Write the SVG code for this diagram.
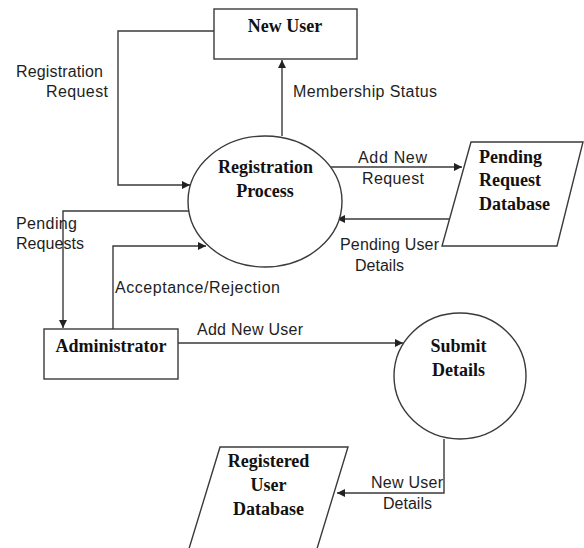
<svg xmlns="http://www.w3.org/2000/svg" width="584" height="548" viewBox="0 0 584 548">
  <defs>
    <marker id="arrow" viewBox="0 0 10 10" refX="10" refY="5" markerWidth="8" markerHeight="8" markerUnits="userSpaceOnUse" orient="auto">
      <path d="M0,0 L10,5 L0,10 z" fill="#222"/>
    </marker>
    <style>
      .shape { fill: #fff; stroke: #3a3a3a; stroke-width: 1.4; }
      .flow { fill: none; stroke: #3a3a3a; stroke-width: 1.4; }
      .arrowed { marker-end: url(#arrow); }
      .title { font-family: "Liberation Serif", "Times New Roman", serif; font-weight: bold; font-size: 18px; fill: #111; }
      .mid { text-anchor: middle; }
      .label { font-family: "Liberation Sans", Arial, sans-serif; font-size: 16px; fill: #1e1e1e; }
    </style>
  </defs>

  <rect width="584" height="548" fill="#fff"/>

  <!-- data flows -->
  <g id="connectors">
    <polyline class="flow arrowed" points="214,31 118,31 118,185 190,185"/>
    <line class="flow arrowed" x1="282" y1="136" x2="282" y2="60"/>
    <line class="flow arrowed" x1="331" y1="167" x2="462" y2="167"/>
    <line class="flow arrowed" x1="450" y1="219" x2="337" y2="219"/>
    <polyline class="flow arrowed" points="189,211 63,211 63,328"/>
    <polyline class="flow arrowed" points="113,329 113,246 206,246"/>
    <line class="flow arrowed" x1="178" y1="343" x2="403" y2="343"/>
    <polyline class="flow arrowed" points="444,439 444,493 337,493"/>

    <text class="label" x="16" y="77" textLength="87">Registration</text>
    <text class="label" x="46" y="97" textLength="62">Request</text>
    <text class="label" x="293" y="97" textLength="144">Membership Status</text>
    <text class="label" x="358" y="163" textLength="69">Add New</text>
    <text class="label" x="362" y="184" textLength="62">Request</text>
    <text class="label" x="340" y="250" textLength="99">Pending User</text>
    <text class="label" x="355" y="271" textLength="49">Details</text>
    <text class="label" x="16" y="229" textLength="61">Pending</text>
    <text class="label" x="16" y="249" textLength="68">Requests</text>
    <text class="label" x="115" y="293" textLength="165">Acceptance/Rejection</text>
    <text class="label" x="197" y="335" textLength="106">Add New User</text>
    <text class="label" x="371" y="488" textLength="72">New User</text>
    <text class="label" x="383" y="509" textLength="49">Details</text>
  </g>

  <g id="new-user">
    <rect class="shape" x="214" y="9" width="143" height="50"/>
    <text class="title mid" x="285" y="32">New User</text>
  </g>

  <g id="registration-process">
    <ellipse class="shape" cx="265" cy="201.5" rx="77" ry="65.5"/>
    <text class="title mid" x="265.5" y="173">Registration</text>
    <text class="title mid" x="265" y="197">Process</text>
  </g>

  <g id="pending-request-database">
    <polygon class="shape" points="471,142 583,142 557,246 442,246"/>
    <text class="title" x="479" y="163">Pending</text>
    <text class="title" x="479" y="186">Request</text>
    <text class="title" x="479" y="210">Database</text>
  </g>

  <g id="administrator">
    <rect class="shape" x="44" y="329" width="134" height="50"/>
    <text class="title mid" x="111" y="352">Administrator</text>
  </g>

  <g id="submit-details">
    <ellipse class="shape" cx="460" cy="376" rx="66" ry="63"/>
    <text class="title mid" x="458.5" y="352">Submit</text>
    <text class="title mid" x="458.5" y="376">Details</text>
  </g>

  <g id="registered-user-database">
    <polygon class="shape" points="220,447 348,447 316,552 188,552"/>
    <text class="title mid" x="268.5" y="467">Registered</text>
    <text class="title mid" x="268.5" y="491">User</text>
    <text class="title mid" x="268.5" y="515">Database</text>
  </g>
</svg>
